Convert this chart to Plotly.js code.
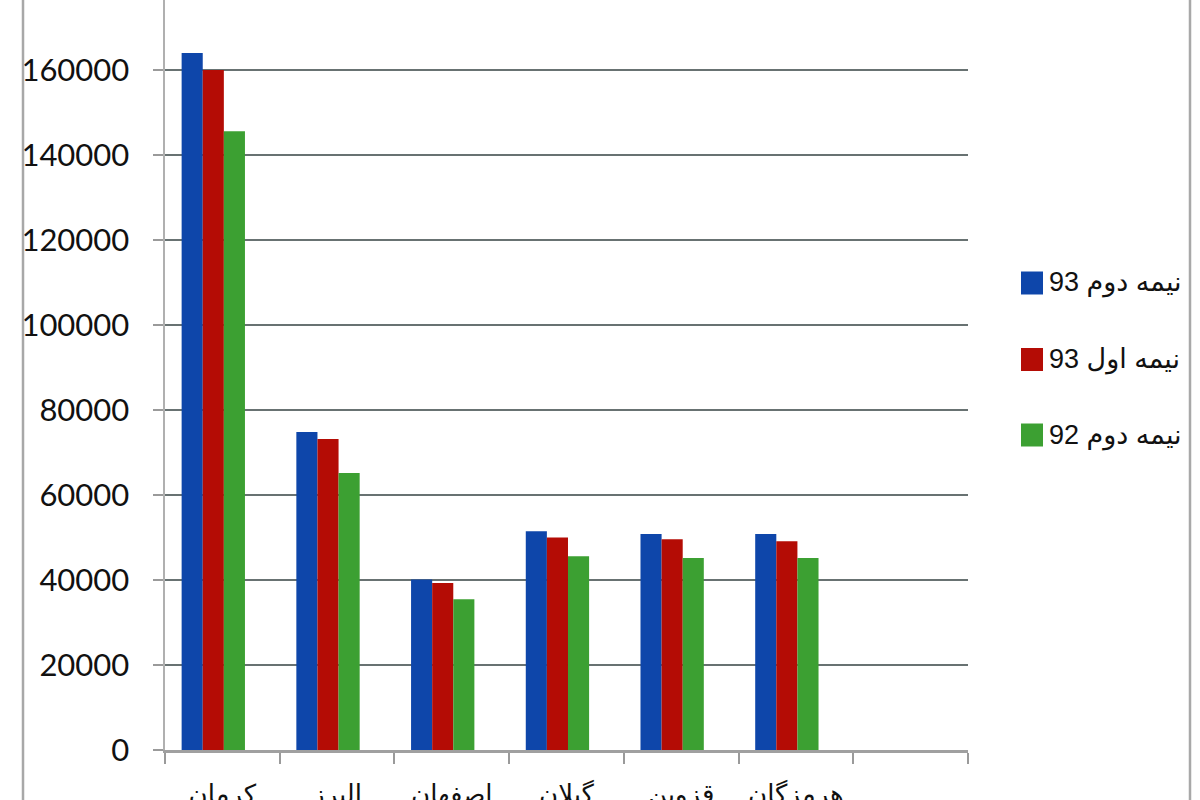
<html>
<head>
<meta charset="utf-8">
<script src="https://cdn.plot.ly/plotly-3.0.1.min.js"></script>
<style>
  body { margin: 0; overflow: hidden; background: #fff; }
  #chart { position: absolute; left: 0; top: -60px; width: 1200px; height: 900px; }
</style>
</head>
<body>
<div id="chart"></div>
<script>
// provinces (labels are cut off at the bottom of the picture), last slot is empty
const cities = ["کرمان", "البرز", "اصفهان", "گیلان", "قزوین", "هرمزگان", "\u00a0"];

// series
const h2_93 = [164000, 74800, 40100, 51500, 50800, 50800, null];
const h1_93 = [160000, 73200, 39300, 50000, 49600, 49100, null];
const h2_92 = [145600, 65200, 35500, 45600, 45200, 45200, null];

const names  = ["93 نیمه دوم", "93 نیمه اول", "92 نیمه دوم"];
const colors = ["#0e46aa", "#b40c05", "#3ca032"];
const series = [h2_93, h1_93, h2_92];

// plot box in pixels of the div (div is shifted up 60px)
const W = 1200, H = 900;
const M = {l: 165, r: 232, t: 45, b: 90};
const px2x = px => (px - M.l) / (W - M.l - M.r);
const py2y = py => (H - M.b - (py + 60)) / (H - M.t - M.b);

const barW = 0.184;
const offs = [-0.355, -0.171, 0.013];

let data = series.map((s, i) => ({
  type: 'bar',
  x: cities,
  y: s,
  name: names[i],
  width: barW,
  offset: offs[i],
  marker: {color: colors[i]},
  showlegend: false,
  hoverinfo: 'y+name'
}));

// legend drawn by hand so the swatches can be as big as in the picture
const legY = [283, 359.5, 435];
let shapes = [];
let annotations = [];
names.forEach((n, i) => {
  shapes.push({
    type: 'rect', xref: 'paper', yref: 'paper',
    xsizemode: 'pixel', ysizemode: 'pixel',
    xanchor: px2x(1032), yanchor: py2y(legY[i]),
    x0: -11, x1: 11, y0: -11.5, y1: 11.5,
    fillcolor: colors[i], line: {width: 0}
  });
  annotations.push({
    xref: 'paper', yref: 'paper',
    x: px2x(1047), y: py2y(legY[i]),
    xanchor: 'left', yanchor: 'middle',
    text: n, showarrow: false,
    font: {family: 'Liberation Sans, DejaVu Sans', size: 27, color: '#111'}
  });
});

// chart frame lines at both sides
[23, 1190].forEach(px => {
  shapes.push({
    type: 'line', xref: 'paper', yref: 'paper',
    x0: px2x(px), x1: px2x(px), y0: -0.2, y1: 1.2,
    line: {color: '#a8a8a8', width: 2.5}
  });
});

let layout = {
  width: W, height: H,
  margin: M,
  barmode: 'overlay',
  paper_bgcolor: '#fff',
  plot_bgcolor: '#fff',
  showlegend: false,
  xaxis: {
    type: 'category',
    range: [-0.5, 6.5],
    tickson: 'boundaries',
    ticks: 'outside',
    ticklen: 11,
    tickwidth: 2,
    tickcolor: '#9a9a9a',
    showline: true,
    linecolor: '#a0a0a0',
    linewidth: 2.5,
    showgrid: false,
    ticklabelstandoff: 19,
    tickfont: {family: 'DejaVu Sans', size: 26, color: '#111'}
  },
  yaxis: {
    range: [0, 180000],
    dtick: 20000,
    tickformat: 'd',
    ticks: 'outside',
    ticklen: 10,
    tickwidth: 2,
    tickcolor: '#9a9a9a',
    showline: true,
    linecolor: '#b0b0b0',
    linewidth: 2.5,
    showgrid: true,
    gridcolor: '#687272',
    gridwidth: 2.5,
    zeroline: false,
    ticklabelstandoff: 17,
    tickfont: {family: 'Lato, Liberation Sans', size: 31, color: '#111'}
  },
  shapes: shapes,
  annotations: annotations
};

Plotly.newPlot('chart', data, layout, {displayModeBar: false, staticPlot: true});
</script>
</body>
</html>
